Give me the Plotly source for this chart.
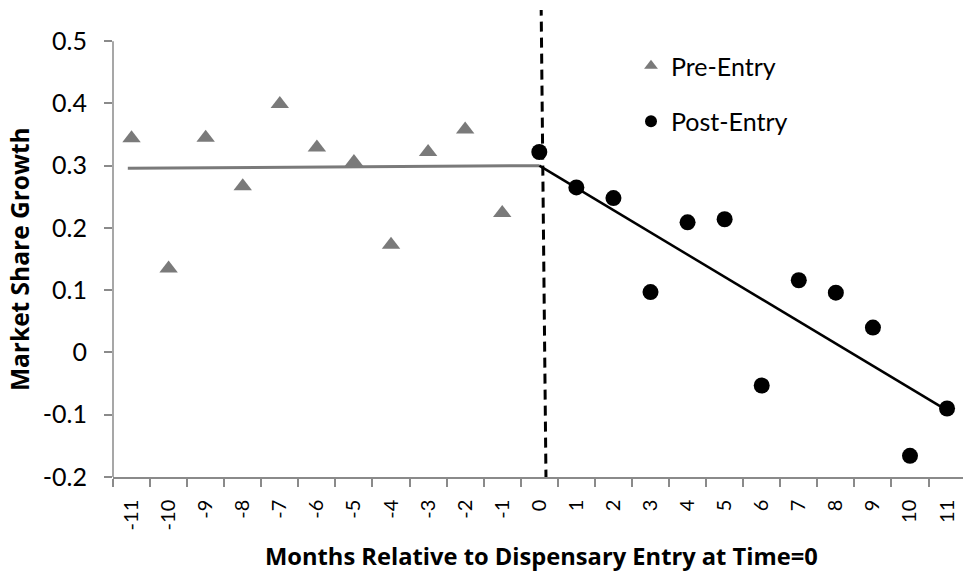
import plotly.graph_objects as go

months = list(range(-11, 12))
tick_labels = [str(m) for m in months]

pre_x = list(range(-11, 0))
pre_y = [0.344, 0.135, 0.345, 0.267, 0.399, 0.329, 0.306, 0.173, 0.322, 0.358, 0.224]

post_x = list(range(0, 12))
post_y = [0.322, 0.265, 0.248, 0.097, 0.209, 0.214, -0.053, 0.116, 0.096, 0.040, -0.166, -0.090]

pre_trend_x = [-11.1, 0]
pre_trend_y = [0.296, 0.300]
post_trend_x = [0, 11]
post_trend_y = [0.300, -0.093]

entry_x = [0.05, 0.18]
entry_y = [0.557, -0.2]
y_ticks = [-0.2, -0.1, 0, 0.1, 0.2, 0.3, 0.4, 0.5]

x_title = "Months Relative to Dispensary Entry at Time=0"
y_title = "Market Share Growth"

FONT = "Lato"
TITLE_FONT = "Open Sans"
GRAY = "#7a7a7a"
AXIS = "#8a8a8a"

W, H = 963, 574
L, T, B = 113, 10, 97
PW, PH = W - L, H - T - B

fig = go.Figure()
fig.add_trace(go.Scatter(x=pre_trend_x, y=pre_trend_y, mode="lines",
                         line=dict(color=GRAY, width=3), showlegend=False, hoverinfo="skip"))
fig.add_trace(go.Scatter(x=post_trend_x, y=post_trend_y, mode="lines",
                         line=dict(color="black", width=2.5), showlegend=False, hoverinfo="skip"))
fig.add_trace(go.Scatter(x=pre_x, y=pre_y, mode="markers", name="Pre-Entry",
                         legendgroup="pre",
                         marker=dict(symbol="triangle-up", size=16, color=GRAY)))
fig.add_trace(go.Scatter(x=post_x, y=post_y, mode="markers", name="Post-Entry",
                         legendgroup="post",
                         marker=dict(symbol="circle", size=16, color="black")))

# dashed entry line
fig.add_shape(type="line", xref="x", yref="y", x0=entry_x[0], x1=entry_x[1],
              y0=entry_y[0], y1=entry_y[1], line=dict(color="black", width=3, dash="10px,6px"))
# y axis line (only from -0.2 to 0.5)
fig.add_shape(type="line", xref="paper", yref="y", x0=0, x1=0, y0=y_ticks[0], y1=y_ticks[-1],
              line=dict(color=AXIS, width=1.5))

# axis titles as annotations (positioned like the original)
fig.add_annotation(text="<b>%s</b>" % x_title, xref="paper", yref="paper",
                   x=(541 - L) / PW, y=(477 - 556) / PH, xanchor="center", yanchor="middle",
                   showarrow=False, font=dict(size=23.7, family=TITLE_FONT, color="black"))
fig.add_annotation(text="<b>%s</b>" % y_title, xref="paper", yref="y",
                   x=(19 - L) / PW, y=0.15, xanchor="center", yanchor="middle",
                   textangle=-90, showarrow=False, font=dict(size=24.5, family=TITLE_FONT, color="black"))

fig.update_layout(
    width=W, height=H,
    margin=dict(l=L, r=0, t=T, b=B),
    paper_bgcolor="white", plot_bgcolor="white",
    font=dict(family=FONT, color="black"),
    legend=dict(x=(631 - L) / PW, y=(477 - 43) / PH, xanchor="left", yanchor="top",
                font=dict(size=25, family=FONT), bgcolor="rgba(0,0,0,0)",
                traceorder="grouped", tracegroupgap=20, itemsizing="constant"),
    showlegend=True,
)
fig.update_xaxes(
    range=[-11.5, 11.43], tickmode="array", tickvals=months, ticktext=tick_labels,
    ticks="", tickangle=-90, tickfont=dict(size=20, family=FONT), ticklabelstandoff=13,
    showgrid=False, zeroline=False, showline=True, linecolor=AXIS, linewidth=1.5,
    automargin=False,
    minor=dict(tickvals=[m - 0.5 for m in months], ticks="outside",
               ticklen=8, tickcolor=AXIS, tickwidth=1.5, showgrid=False),
)
fig.update_yaxes(
    range=[-0.2, 0.55], tickmode="array", tickvals=y_ticks,
    ticktext=[("%g" % v) for v in y_ticks],
    ticks="outside", ticklen=8, tickcolor=AXIS, tickwidth=1.5,
    tickfont=dict(size=25, family=FONT), ticklabelstandoff=12,
    showgrid=False, zeroline=False, showline=False, automargin=False,
)

# remove the page's default 8px body margin so the figure fills the window exactly
fig.write_html("out.html", config={"displayModeBar": False},
               post_script="document.body.style.margin='0';document.body.style.overflow='hidden';")
